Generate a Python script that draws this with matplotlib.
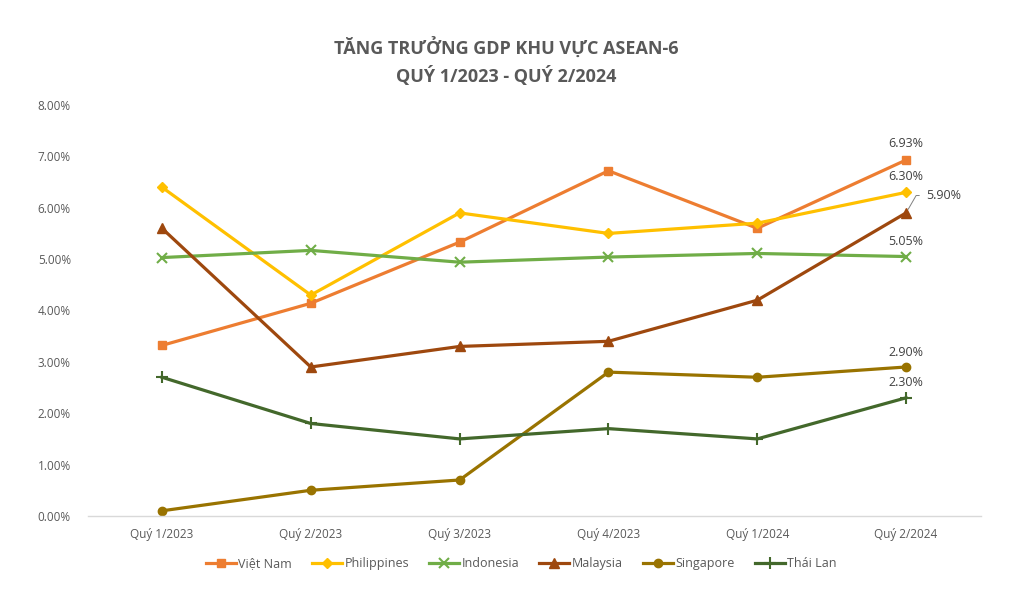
import matplotlib
matplotlib.use("Agg")
import matplotlib.pyplot as plt
from matplotlib.ticker import FuncFormatter, MultipleLocator

# --- Data ---
quarters = ["Quý 1/2023", "Quý 2/2023", "Quý 3/2023", "Quý 4/2023", "Quý 1/2024", "Quý 2/2024"]
viet_nam = [3.32, 4.14, 5.33, 6.72, 5.60, 6.93]
philippines = [6.40, 4.30, 5.90, 5.50, 5.70, 6.30]
indonesia = [5.03, 5.17, 4.94, 5.04, 5.11, 5.05]
malaysia = [5.60, 2.90, 3.30, 3.40, 4.20, 5.90]
singapore = [0.10, 0.50, 0.70, 2.80, 2.70, 2.90]
thai_lan = [2.70, 1.80, 1.50, 1.70, 1.50, 2.30]

series = [
    ("Việt Nam", viet_nam, "#ED7D31", "s", 6),
    ("Philippines", philippines, "#FFC000", "D", 5),
    ("Indonesia", indonesia, "#70AD47", "x", 7),
    ("Malaysia", malaysia, "#9E480E", "^", 7),
    ("Singapore", singapore, "#997300", "o", 6),
    ("Thái Lan", thai_lan, "#43682B", "+", 8),
]

plt.rcParams['font.family'] = ['Open Sans', 'DejaVu Sans']
TEXT = "#595959"

fig = plt.figure(figsize=(10.12, 6.07), dpi=100)
ax = fig.add_axes([0.0865, 0.15, 0.8824, 0.677])

x = list(range(len(quarters)))
for name, vals, color, marker, ms in series:
    ax.plot(x, vals, color=color, lw=2.3, marker=marker, markersize=ms,
            markeredgewidth=1.5 if marker in "x+" else 1, markeredgecolor=color,
            markerfacecolor=color, label=name)

# data labels on last point
last = len(quarters) - 1
lab = dict(fontsize=9, color="#404040", ha="center", va="bottom")
ax.annotate(f"{viet_nam[-1]:.2f}%", (last, viet_nam[-1]), xytext=(0, 7), textcoords="offset points", **lab)
ax.annotate(f"{philippines[-1]:.2f}%", (last, philippines[-1]), xytext=(0, 7), textcoords="offset points", **lab)
ax.annotate(f"{indonesia[-1]:.2f}%", (last, indonesia[-1]), xytext=(0, 6), textcoords="offset points", **lab)
ax.annotate(f"{singapore[-1]:.2f}%", (last, singapore[-1]), xytext=(0, 6), textcoords="offset points", **lab)
ax.annotate(f"{thai_lan[-1]:.2f}%", (last, thai_lan[-1]), xytext=(0, 6), textcoords="offset points", **lab)
ax.annotate(f"{malaysia[-1]:.2f}%", (last, malaysia[-1]), xytext=(14.5, 12.5), textcoords="offset points",
            fontsize=9, color="#404040", ha="left", va="center",
            arrowprops=dict(arrowstyle="-", color="#808080", lw=0.7, shrinkA=3, shrinkB=3,
                            connectionstyle="angle,angleA=0,angleB=60,rad=0"))

ax.set_xlim(-0.5, last + 0.5)
ax.set_ylim(0, 8)
ax.yaxis.set_major_locator(MultipleLocator(1))
ax.yaxis.set_major_formatter(FuncFormatter(lambda v, p: f"{v:.2f}%"))
ax.set_xticks(x)
ax.set_xticklabels(quarters)
ax.tick_params(axis="both", length=0, labelsize=8.5, labelcolor=TEXT)
ax.tick_params(axis="y", pad=12)
ax.tick_params(axis="x", pad=9)

for s in ["top", "right", "left"]:
    ax.spines[s].set_visible(False)
ax.spines["bottom"].set_color("#D9D9D9")
ax.spines["bottom"].set_linewidth(1)

fig.text(0.5, 0.898, "TĂNG TRƯỞNG GDP KHU VỰC ASEAN-6\nQUÝ 1/2023 - QUÝ 2/2024",
         ha="center", va="center", fontsize=13, fontweight="bold", color=TEXT, linespacing=1.4)

fig.legend(loc="center", bbox_to_anchor=(0.515, 0.071), ncol=6, frameon=False,
           fontsize=9, labelcolor=TEXT, handlelength=2.4, columnspacing=1.6, handletextpad=0.2)

fig.savefig("out.png", dpi=100, facecolor="white")
